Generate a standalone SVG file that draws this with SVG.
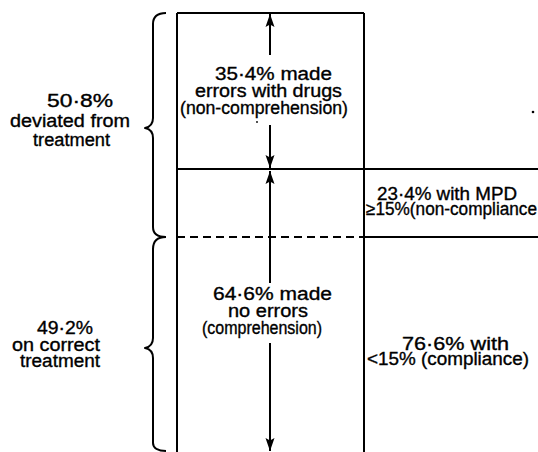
<svg xmlns="http://www.w3.org/2000/svg" width="538" height="452" viewBox="0 0 538 452">
  <defs>
    <style>
      .ln { stroke: #000; stroke-width: 2; fill: none; }
      .dash { stroke: #000; stroke-width: 2; fill: none; stroke-dasharray: 8 5; }
      .br { stroke: #000; stroke-width: 2; fill: none; stroke-linejoin: round; }
      .ar { stroke: #000; stroke-width: 2; fill: none; marker-end: url(#ah); }
      text { font-family: "Liberation Sans", Arial, sans-serif; font-size: 18px; fill: #000; stroke: #000; stroke-width: 0.35; }
    </style>
    <marker id="ah" markerUnits="userSpaceOnUse" viewBox="0 -5 14 10" refX="13" refY="0" markerWidth="14" markerHeight="10" orient="auto">
      <path d="M0,-4.5 L13,0 L0,4.5 L2.5,0 z" fill="#000"/>
    </marker>
  </defs>
  <rect width="538" height="452" fill="#fff"/>

  <g id="frame">
    <path class="ln" d="M177,13 H364"/>
    <path class="ln" d="M177,13 V452"/>
    <path class="ln" d="M364,13 V452"/>
    <path class="ln" d="M177,169 H538"/>
    <path class="ln" d="M364,237 H538"/>
    <path class="dash" d="M177,237 H364"/>
  </g>

  <g id="braces">
    <path id="brace-top" class="br" d="M166,13 C158,13 153,16 153,24 L153,118 C153,124 150,127 145,128 C150,129 153,132 153,138 L153,227 C153,234 158,237 166,237"/>
    <path id="brace-bottom" class="br" d="M166,237 C158,237 153,241 153,249 L153,338 C153,344 150,347 145,348 C150,349 153,352 153,358 L153,443 C153,448 158,451 166,451"/>
  </g>

  <g id="connectors">
    <path class="ar" d="M270,55 V14"/>
    <path class="ar" d="M270,125 V168"/>
    <path class="ar" d="M270,283 V171"/>
    <path class="ar" d="M270,343 V451"/>
  </g>

  <g id="label-deviated">
    <text><tspan x="47" y="107" textLength="66" lengthAdjust="spacingAndGlyphs">50·8%</tspan><tspan x="10" y="127" textLength="120" lengthAdjust="spacingAndGlyphs">deviated from</tspan><tspan x="33" y="146" textLength="77" lengthAdjust="spacingAndGlyphs">treatment</tspan></text>
  </g>
  <g id="label-correct">
    <text><tspan x="37" y="334" textLength="56" lengthAdjust="spacingAndGlyphs">49·2%</tspan><tspan x="12" y="351" textLength="88" lengthAdjust="spacingAndGlyphs">on correct</tspan><tspan x="20" y="367" textLength="80" lengthAdjust="spacingAndGlyphs">treatment</tspan></text>
  </g>
  <g id="node-errors">
    <text><tspan x="215" y="80" textLength="117" lengthAdjust="spacingAndGlyphs">35·4% made</tspan><tspan x="195" y="97" textLength="147" lengthAdjust="spacingAndGlyphs">errors with drugs</tspan><tspan x="180" y="114" textLength="168" lengthAdjust="spacingAndGlyphs">(non-comprehension)</tspan></text>
  </g>
  <g id="node-no-errors">
    <text><tspan x="213" y="300" textLength="119" lengthAdjust="spacingAndGlyphs">64·6% made</tspan><tspan x="228" y="317" textLength="80" lengthAdjust="spacingAndGlyphs">no errors</tspan><tspan x="202" y="334" textLength="120" lengthAdjust="spacingAndGlyphs">(comprehension)</tspan></text>
  </g>
  <g id="node-noncompliance">
    <text><tspan x="377" y="200" textLength="140" lengthAdjust="spacingAndGlyphs">23·4% with MPD</tspan><tspan x="366" y="215" textLength="171" lengthAdjust="spacingAndGlyphs">≥15%(non-compliance</tspan></text>
  </g>
  <g id="node-compliance">
    <text><tspan x="402" y="350" textLength="107" lengthAdjust="spacingAndGlyphs">76·6% with</tspan><tspan x="367" y="365" textLength="162" lengthAdjust="spacingAndGlyphs">&lt;15% (compliance)</tspan></text>
  </g>

  <g id="specks" fill="#000">
    <circle cx="533" cy="112" r="1.3"/>
    <circle cx="257" cy="122" r="0.9"/>
  </g>
</svg>
